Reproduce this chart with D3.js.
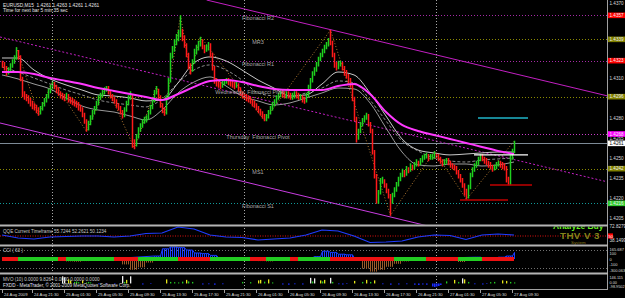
<!DOCTYPE html>
<html>
<head>
<meta charset="utf-8">
<script src="https://cdnjs.cloudflare.com/ajax/libs/d3/7.8.5/d3.min.js"></script>
<style>
body { margin: 0; background: #000; }
svg { display: block; font-family: "Liberation Sans", Arial, sans-serif; }
</style>
</head>
<body>
<div id="chart"></div>
<script>
///////////////////////////////////////////////////////////////////////////
///////////////////////////////// Data ////////////////////////////////////
///////////////////////////////////////////////////////////////////////////

// EURUSD M15, prices in pips above 1.4200 (open of each bar = previous close)
var basePrice = 1.42;
var firstOpen = 121;
var closes = [120,118,114,116,119,122,125,128,126,110,
  98,96,95,93,91,89,88,86,84,87,
  90,93,96,100,103,105,104,101,99,97,
  96,95,97,94,93,92,91,90,88,87,
  83,78,73,76,80,84,87,91,95,97,
  99,101,102,100,97,95,93,90,88,85,
  82,86,91,95,97,62,60,66,71,74,
  77,79,80,84,88,93,99,101,96,90,
  86,84,95,108,127,132,137,140,143,145,
  140,135,128,120,116,122,130,133,136,138,
  134,131,133,135,128,118,108,106,105,104,
  106,107,108,107,106,105,104,105,102,99,
  97,96,95,94,93,91,90,88,86,84,
  82,80,81,84,87,90,92,95,97,99,
  98,97,98,97,96,97,98,97,96,96,
  94,93,97,103,108,113,116,120,124,127,
  130,133,135,138,137,128,120,118,121,121,
  118,114,112,108,105,95,80,65,70,75,
  78,80,82,76,71,55,37,18,24,33,
  33,30,26,22,18,22,26,30,34,37,
  40,38,42,41,44,43,45,47,46,48,
  50,51,52,50,51,51,53,52,50,48,
  46,47,48,47,45,44,43,40,37,34,
  30,26,21,28,37,41,44,46,49,51,
  50,48,47,45,44,42,43,45,46,45,
  44,43,34,31,50,55,61];
var highs = [123,122,119,118,121,124,127,133,131,127,
  111,100,98,97,95,93,91,90,88,89,
  92,95,98,102,105,108,107,105,103,100,
  99,98,99,98,96,95,94,93,92,90,
  88,84,79,78,82,86,89,93,97,99,
  101,103,104,104,101,98,96,94,91,89,
  86,88,93,97,100,98,64,68,73,76,
  79,81,82,86,90,95,101,104,102,97,
  91,88,97,110,129,134,139,143,146,157,
  147,142,136,129,121,124,132,135,138,141,
  139,135,135,137,136,129,119,110,108,107,
  108,109,110,110,109,108,107,107,106,103,
  100,99,98,97,96,94,93,91,89,87,
  85,83,83,86,89,92,94,97,99,101,
  101,100,100,100,99,99,100,100,99,98,
  97,96,99,105,110,115,118,122,126,129,
  132,135,137,140,146,138,129,122,123,123,
  122,119,116,113,110,106,96,81,72,77,
  80,82,84,83,77,72,56,38,26,35,
  36,34,31,27,23,24,28,32,36,39,
  42,41,44,43,46,45,47,49,48,50,
  52,53,54,53,53,53,55,54,53,51,
  49,49,50,50,48,46,45,44,41,38,
  35,31,27,30,39,43,46,48,51,53,
  53,51,50,48,47,45,45,47,48,48,
  47,46,44,36,52,57,63];
var lows = [118,116,112,113,115,118,121,124,124,108,
  96,94,93,91,89,87,86,84,82,83,
  86,89,92,95,99,102,102,99,97,95,
  94,93,94,92,91,90,89,88,86,85,
  81,76,70,71,75,79,83,86,90,94,
  96,98,100,98,95,93,91,88,86,83,
  80,81,85,90,94,58,57,59,65,70,
  73,76,77,79,83,87,92,98,94,88,
  84,82,83,94,107,125,130,135,138,141,
  138,133,126,117,113,115,121,128,131,134,
  132,129,130,131,126,116,106,104,103,102,
  103,105,106,105,104,103,102,103,100,97,
  95,94,93,92,91,89,88,86,84,82,
  80,78,78,80,83,86,89,91,94,96,
  96,95,95,95,94,94,95,95,94,94,
  92,91,92,96,102,107,112,115,119,123,
  126,129,132,134,135,126,118,116,117,119,
  116,112,110,106,103,93,78,62,64,69,
  74,77,79,74,69,53,35,16,16,23,
  31,28,24,20,7,16,21,25,29,33,
  36,36,37,39,40,41,42,44,44,45,
  47,49,50,48,49,49,50,50,48,46,
  44,45,46,45,43,42,41,38,35,32,
  28,22,19,20,27,36,40,43,45,48,
  48,46,45,43,42,40,41,42,44,43,
  42,41,32,30,30,49,54];

// moving averages / bands read every 8 bars (pips above 1.4200)
var maBars = [0,8,16,24,32,40,48,56,64,72,80,88,96,104,112,120,128,136,144,152,160,168,176,184,192,200,208,216,224,232,240,248,256];
var maSlow = [114.5,114.5,113,110,107.8,105.5,102.5,100.3,98,95.8,93.5,98,103.3,107.8,108.5,107,104,101.8,101,101,101,104,105.5,98,84.5,74.8,70.3,67.3,64.3,61.3,58.3,55.3,53];
var bandUp = [125,125,116,109.3,104.8,101,97.3,96.5,95,92.8,93.5,106.3,121.3,125.8,122.8,116,108.5,102.5,96.5,97.3,105.5,114.5,112.3,98.8,81.5,64.3,56,53.8,52.3,53,53.8,54.5,54.5];
var bandLo = [112.3,109.3,105.5,101.8,95,89,86,84.5,81.5,78.5,86,98.8,107,110.8,104,96.5,92.8,89.8,91.3,95,98.8,102.5,101.8,91.3,72.5,54.5,44.8,44,45.5,45.5,44,44.8,47];
var bandMid = [118.3,114.5,110,105.5,101,97.3,93.5,91.3,89.8,88.3,94.3,106.3,116,119.8,116,108.5,98.8,96.5,95.8,98.8,102.5,107.8,106.3,93.5,77.8,62.8,55.3,50,47.8,47,48.5,49.3,50];

// zigzag swing points
var zzBars = [7,18,25,42,52,66,77,81,89,94,99,131,164,194,216,232,256];
var zzVals = [133,82,108,70,104,57,104,82,157,113,141,78,146,7,55,19,63];

// channel anchor points
var chanUpBars = [165, 284], chanUpVals = [146, 103.3];
var chanMidBars = [0, 284], chanMidVals = [140.4, 38.8];
var chanLoBars = [0, 159], chanLoVals = [75.9, 18.5];

// drawn horizontal segments [from bar, to bar], level in pips
var segCyan = [238, 263], segCyanVal = 80;
var segWhite = [236, 263], segWhiteVal = 52.3;
var segRed1 = [244, 265], segRed1Val = 29.8;
var segRed2 = [229, 253], segRed2Val = 18.5;

// Fibonacci pivot levels
var fibNames = ["Fibonacci R2", "MR3", "Fibonacci R1", "Wednesday  Fibonacci Pivot", "Thursday  Fibonacci Pivot", "MS1", "Fibonacci S1"];
var fibPrices = [1.4357, 1.4339, 1.4323, 1.4296, 1.4268, 1.4242, 1.4216];
var bidPrice = 1.4261;

// price axis
var priceTicks = [1.4205, 1.4220, 1.4235, 1.4250, 1.4265, 1.4280, 1.4295, 1.4310, 1.4325, 1.4340, 1.4355, 1.4370];

// time axis
var timeBars = [0,15,31,47,63,79,95,111,127,143,159,175,191,207,223,239,255];
var timeLabels = ["24 Aug 2009","24 Aug 21:30","25 Aug 01:30","25 Aug 05:30","25 Aug 09:30","25 Aug 13:30","25 Aug 17:30","25 Aug 21:30",
  "26 Aug 01:30","26 Aug 05:30","26 Aug 09:30","26 Aug 13:30","26 Aug 17:30","26 Aug 21:30","27 Aug 01:30","27 Aug 05:30","27 Aug 09:30"];
var dayBars = [25, 121, 217];

// QQE (same sample bars as the averages)
var qqeVals = [52.5,45,42.5,47.5,48.8,50,50,47.5,50,56.3,57.5,72.5,67.5,52.5,47.5,46.3,40,42.5,45,52.5,65,62.5,50,33.8,35,37.5,47.5,52.5,51.3,41.3,52.5,55,52.5];
var qqeLevel = 50;

// CCI(63), one value per 4 bars, and the signal band colour per 4 bars
var cciVals = [-15,-10,-30,-25,-10,10,15,-20,-40,-45,
  -35,-20,10,5,-25,-90,-180,-140,-60,50,
  170,200,190,150,100,90,60,20,10,-10,
  -20,-15,-35,-40,-20,-10,-15,-30,20,40,
  130,110,80,70,10,-160,-210,-180,-130,-80,
  -40,-20,5,10,-10,-5,-30,-50,-20,30,
  20,15,30,50,110];
var cciBand = "rrgggggrggggggrrrgggggrrrrgggggrrgggrggggrrrrrrrrggggrrrrgggrrrr";
var cciLevels = [150, -150];

// MVO histogram (sparse)
var mvoUpBars = [30,31,33,34,36,37,38,40,42,43,44,60,61,62,64,82,84,86,88,90,92,93,95,120,124,128,129,131,133,135,154,155,156,159,160,161,164,165,176,180,182,184,186,222,226,228,230,231,233,244,246,250,252,254,256];
var mvoUpVals = [140,120,80,60,30,40,25,60,20,30,20,145,30,70,140,80,30,25,20,35,70,40,30,30,25,60,70,35,80,20,110,40,100,60,40,70,110,30,50,30,70,30,60,40,70,30,100,80,30,25,30,60,50,30,20];
var mvoDnBars = [2,5,10,15,22,48,52,56,70,74,100,103,106,110,140,143,146,150,168,170,172,190,194,198,202,206,208,210,212,215,216,217,218,219,236,240,242];
var mvoDnVals = [-10,-15,-10,-20,-10,-15,-10,-15,-20,-10,-20,-15,-25,-15,-20,-25,-15,-20,-15,-20,-10,-15,-25,-20,-15,-25,-30,-20,-25,-60,-70,-60,-50,-30,-15,-20,-10];

///////////////////////////////////////////////////////////////////////////
//////////////////////////////// Setup ////////////////////////////////////
///////////////////////////////////////////////////////////////////////////

var width = 625, height = 298;
var axisX = 607, axisY = 289, mainBottom = 224.5;
var axisFont = 4.6;

function P(v) { return basePrice + v / 10000; }

var svg = d3.select("#chart").append("svg")
  .attr("width", width)
  .attr("height", height);

svg.append("rect").attr("width", width).attr("height", height).attr("fill", "#000");

var defs = svg.append("defs");
defs.append("clipPath").attr("id", "mainClip")
  .append("rect").attr("x", 0).attr("y", 0).attr("width", axisX).attr("height", mainBottom);
defs.append("clipPath").attr("id", "qqeClip")
  .append("rect").attr("x", 0).attr("y", 226.5).attr("width", axisX).attr("height", 18);

var x = d3.scaleLinear().domain([0, 302]).range([2, 606]);
var y = d3.scaleLinear().domain([1.4205, 1.4355]).range([218, 18]);
var qqeY = d3.scaleLinear().domain([30, 75]).range([244, 226]);
var cciY = d3.scaleLinear().domain([-200, 200]).range([271, 247]);
var mvoY = d3.scaleLinear().domain([-98.95, 146.115]).range([288.5, 276]);

///////////////////////////////////////////////////////////////////////////
////////////////////////////// Main window ////////////////////////////////
///////////////////////////////////////////////////////////////////////////

var main = svg.append("g").attr("clip-path", "url(#mainClip)");

// day separators (all windows)
svg.selectAll(".daysep")
  .data(dayBars)
  .enter().append("line")
  .attr("x1", function(d) { return x(d) + 0.5; })
  .attr("x2", function(d) { return x(d) + 0.5; })
  .attr("y1", 0).attr("y2", axisY)
  .attr("stroke", "#a8a8a8")
  .attr("stroke-dasharray", "1,2");

var fibColors = ["#a52aa5", "#8a8a00", "#a52aa5", "#8a8a00", "#c83cc8", "#8a8a00", "#119999"];
var fibBoxes = ["#ff0000", "#808000", "#ff0000", "#808000", "#ff00ff", "#808000", "#32cd32"];

main.selectAll(".fib")
  .data(fibPrices)
  .enter().append("line")
  .attr("x1", 0).attr("x2", axisX)
  .attr("y1", function(d) { return Math.round(y(d)) + 0.5; })
  .attr("y2", function(d) { return Math.round(y(d)) + 0.5; })
  .attr("stroke", function(d, i) { return fibColors[i]; })
  .attr("stroke-dasharray", "1,2");

// bid line
main.append("line")
  .attr("x1", 0).attr("x2", axisX)
  .attr("y1", Math.round(y(bidPrice)) + 0.5).attr("y2", Math.round(y(bidPrice)) + 0.5)
  .attr("stroke", "#7d8a96");

// channels, extended across the window
function channel(bars, vals, dash, color, fromTop) {
  var x1 = x(bars[0]), y1 = y(P(vals[0])), x2 = x(bars[1]), y2 = y(P(vals[1]));
  var k = (y2 - y1) / (x2 - x1);
  var startX = fromTop ? x1 - y1 / k : 0;
  main.append("line")
    .attr("x1", startX).attr("y1", y1 + (startX - x1) * k)
    .attr("x2", axisX).attr("y2", y1 + (axisX - x1) * k)
    .attr("stroke", color)
    .attr("stroke-width", 1)
    .attr("stroke-dasharray", dash);
}
channel(chanUpBars, chanUpVals, null, "#c21fc2", true);
channel(chanMidBars, chanMidVals, "2,2", "#c21fc2", false);
channel(chanLoBars, chanLoVals, null, "#c83ce0", false);

// zigzag
main.append("path")
  .datum(zzBars)
  .attr("fill", "none")
  .attr("stroke", "#b07830")
  .attr("stroke-dasharray", "1,2")
  .attr("d", d3.line()
    .x(function(d) { return x(d) + 0.5; })
    .y(function(d, i) { return y(P(zzVals[i])); }));

// averages and bands
function maLine(vals, color, w, dash) {
  main.append("path")
    .datum(maBars)
    .attr("fill", "none")
    .attr("stroke", color)
    .attr("stroke-width", w)
    .attr("stroke-dasharray", dash)
    .attr("d", d3.line()
      .curve(d3.curveMonotoneX)
      .x(function(d) { return x(d); })
      .y(function(d, i) { return y(P(vals[i])); }));
}
maLine(bandLo, "#9a9a9a", 1, null);
maLine(bandMid, "#8c8c8c", 1, "3,2");
maLine(bandUp, "#c8c8c8", 1, null);

// candles
var bars = closes.map(function(c, i) {
  return { i: i, o: i ? closes[i - 1] : firstOpen, h: highs[i], l: lows[i], c: c };
});
main.selectAll(".bar")
  .data(bars)
  .enter().append("line")
  .attr("x1", function(d) { return x(d.i) + 0.5; })
  .attr("x2", function(d) { return x(d.i) + 0.5; })
  .attr("y1", function(d) { return y(P(Math.max(d.h, d.o, d.c))); })
  .attr("y2", function(d) { return y(P(Math.min(d.l, d.o, d.c))) + 0.5; })
  .attr("stroke", function(d) { return d.c >= d.o ? "#1fd01f" : "#ff1a1a"; })
  .attr("stroke-width", 1.5);

maLine(maSlow, "#ff38ff", 2, null);

// drawn horizontal segments
function seg(b, v, color, w) {
  main.append("line")
    .attr("x1", x(b[0])).attr("x2", x(b[1]))
    .attr("y1", y(P(v))).attr("y2", y(P(v)))
    .attr("stroke", color).attr("stroke-width", w);
}
seg(segCyan, segCyanVal, "#1fb4c8", 1.6);
seg(segWhite, segWhiteVal, "#ffffff", 1.3);
seg(segRed1, segRed1Val, "#c00000", 1.5);
seg(segRed2, segRed2Val, "#c00000", 1.5);

// fibo labels
main.selectAll(".fibtext")
  .data(fibNames)
  .enter().append("text")
  .attr("x", function(d, i) { return x(i === 3 ? 124 : 128); })
  .attr("y", function(d, i) { return y(fibPrices[i]) + (i === 3 ? -3 : 5); })
  .attr("text-anchor", "middle")
  .attr("fill", "#a8a8a8")
  .style("font-size", "5.5px")
  .style("white-space", "pre")
  .text(function(d) { return d; });

// header
svg.append("text").attr("x", 3).attr("y", 6.5)
  .attr("fill", "#e6e6e6").style("font-size", "4.8px").style("white-space", "pre")
  .text("EURUSD,M15  1.4261 1.4263 1.4261 1.4261");
svg.append("text").attr("x", 3).attr("y", 12)
  .attr("fill", "#e6e6e6").style("font-size", "4.8px")
  .text("Time for next bar 5 min 35 sec");

///////////////////////////////////////////////////////////////////////////
/////////////////////////////// Price axis ////////////////////////////////
///////////////////////////////////////////////////////////////////////////

svg.append("line")
  .attr("x1", axisX + 0.5).attr("x2", axisX + 0.5)
  .attr("y1", 0).attr("y2", axisY)
  .attr("stroke", "#a0a0a0");

// tick labels hidden where a level box sits on them
var boxYs = fibPrices.concat([bidPrice]).map(function(p) { return y(p); });
var shownTicks = priceTicks.filter(function(t) {
  return boxYs.every(function(b) { return Math.abs(Math.max(3, y(t)) - b) >= 3; });
});

svg.selectAll(".ptick")
  .data(shownTicks)
  .enter().append("text")
  .attr("x", axisX + 2.5)
  .attr("y", function(d) {
    var yy = Math.max(3, y(d));
    boxYs.forEach(function(b) { if (Math.abs(yy - b) < 5) yy = b + (yy > b ? 5 : -5); });
    return yy + 1.6;
  })
  .attr("fill", "#dcdcdc")
  .style("font-size", axisFont + "px")
  .text(function(d) { return d.toFixed(4); });

function priceBox(yy, fill, txtColor, label) {
  svg.append("rect")
    .attr("x", axisX + 1).attr("y", yy - 2.8)
    .attr("width", 17).attr("height", 5.6)
    .attr("fill", fill);
  svg.append("text")
    .attr("x", axisX + 2.5).attr("y", yy + 1.6)
    .attr("fill", txtColor)
    .style("font-size", axisFont + "px")
    .text(label);
}
fibPrices.forEach(function(p, i) {
  priceBox(y(p), fibBoxes[i], "#f0f0f0", p.toFixed(4));
});
priceBox(y(bidPrice), "#ffffff", "#000000", bidPrice.toFixed(4));

///////////////////////////////////////////////////////////////////////////
////////////////////////////////// QQE ////////////////////////////////////
///////////////////////////////////////////////////////////////////////////

svg.append("line")
  .attr("x1", 0).attr("x2", axisX)
  .attr("y1", qqeY(qqeLevel)).attr("y2", qqeY(qqeLevel))
  .attr("stroke", "#e01010")
  .attr("stroke-dasharray", "1,1.5");

svg.append("path")
  .datum(maBars)
  .attr("fill", "none")
  .attr("stroke", "#1f3cff")
  .attr("stroke-width", 1.2)
  .attr("d", d3.line()
    .x(function(d) { return x(d); })
    .y(function(d, i) { return qqeY(qqeVals[i]); }));

svg.append("text").attr("x", 3).attr("y", 232.5)
  .attr("fill", "#c8c8c8").style("font-size", "4.6px")
  .text("QQE Current Timeframe 55.7244 52.2621 50.1234");

svg.append("text").attr("x", 553).attr("y", 229)
  .attr("clip-path", "url(#qqeClip)")
  .attr("fill", "#66ee22").style("font-size", "8.5px").style("font-weight", "bold")
  .text("Analyze Buy");
svg.append("text").attr("x", 560).attr("y", 239.3)
  .attr("fill", "#84841a").style("font-size", "9.8px").style("font-weight", "bold")
  .style("letter-spacing", "0.4px")
  .text("THV V 3");
svg.append("text").attr("x", 571).attr("y", 244)
  .attr("fill", "#8a7a1a").style("font-size", "4.4px")
  .text("System");

svg.append("text").attr("x", axisX + 2.5).attr("y", qqeY(72.8279) + 1.6)
  .attr("fill", "#dcdcdc").style("font-size", axisFont + "px").text("72.8279");
svg.append("text").attr("x", axisX + 2.5).attr("y", qqeY(38.1499) + 1.6)
  .attr("fill", "#dcdcdc").style("font-size", axisFont + "px").text("38.1499");
svg.append("rect").attr("x", axisX + 1).attr("y", qqeY(qqeLevel) - 2.6)
  .attr("width", 5).attr("height", 5.2).attr("fill", "#ff0000");
svg.append("text").attr("x", axisX + 1.4).attr("y", qqeY(qqeLevel) + 1.6)
  .attr("fill", "#ffffff").style("font-size", "4.2px").text("50");

///////////////////////////////////////////////////////////////////////////
////////////////////////////////// CCI ////////////////////////////////////
///////////////////////////////////////////////////////////////////////////

svg.selectAll(".ccilev")
  .data(cciLevels)
  .enter().append("line")
  .attr("x1", 0).attr("x2", axisX)
  .attr("y1", function(d) { return Math.round(cciY(d)) + 0.5; })
  .attr("y2", function(d) { return Math.round(cciY(d)) + 0.5; })
  .attr("stroke", "#707070")
  .attr("stroke-dasharray", "1,2");

var cciBars = closes.map(function(c, i) { return { i: i, v: cciVals[Math.floor(i / 4)] }; });
svg.selectAll(".cci")
  .data(cciBars)
  .enter().append("line")
  .attr("x1", function(d) { return x(d.i) + 0.5; })
  .attr("x2", function(d) { return x(d.i) + 0.5; })
  .attr("y1", cciY(0))
  .attr("y2", function(d) { return cciY(d.v); })
  .attr("stroke", function(d) { return d.v >= 0 ? "#1a3cff" : "#9a5a2a"; })
  .attr("stroke-width", 1);

svg.append("path")
  .datum(cciBars.filter(function(d) { return d.v > 0; }))
  .attr("fill", "none")
  .attr("stroke", "#1a3cff")
  .attr("d", d3.line()
    .x(function(d) { return x(d.i) + 0.5; })
    .y(function(d) { return cciY(d.v); }));

svg.selectAll(".band")
  .data(cciBand.split(""))
  .enter().append("rect")
  .attr("x", function(d, i) { return x(i * 4); })
  .attr("width", function(d, i) { return x(Math.min(i * 4 + 4, 257)) - x(i * 4); })
  .attr("y", cciY(0) - 2)
  .attr("height", 4)
  .attr("fill", function(d) { return d === "g" ? "#22cc22" : "#ee1111"; });

svg.append("text").attr("x", 3).attr("y", 251.5)
  .attr("fill", "#c8c8c8").style("font-size", "4.6px").style("white-space", "pre")
  .text("CCI ( 63 )");

[["165.687", 250.6], ["100", cciY(100) + 2.2], ["0", cciY(0) + 1.6], ["-100", cciY(-100) + 1.2], ["-300.063", 271.8]].forEach(function(d) {
  svg.append("text").attr("x", axisX + 2.5).attr("y", d[1])
    .attr("fill", "#dcdcdc").style("font-size", "4px").text(d[0]);
});

///////////////////////////////////////////////////////////////////////////
////////////////////////////////// MVO ////////////////////////////////////
///////////////////////////////////////////////////////////////////////////

function mvoColor(v) {
  if (v < 0) return "#1a2cff";
  if (v >= 90) return "#f0f0f0";
  if (v >= 50) return "#e6e61a";
  return "#22cc22";
}
svg.selectAll(".mvoUp")
  .data(mvoUpBars)
  .enter().append("rect")
  .attr("x", function(d) { return x(d); })
  .attr("width", 1.3)
  .attr("y", function(d, i) { return mvoY(mvoUpVals[i]); })
  .attr("height", function(d, i) { return mvoY(0) - mvoY(mvoUpVals[i]); })
  .attr("fill", function(d, i) { return mvoColor(mvoUpVals[i]); });
svg.selectAll(".mvoDn")
  .data(mvoDnBars)
  .enter().append("rect")
  .attr("x", function(d) { return x(d); })
  .attr("width", 1.6)
  .attr("y", mvoY(0))
  .attr("height", function(d, i) { return mvoY(mvoDnVals[i]) - mvoY(0); })
  .attr("fill", "#1a2cff");

svg.append("text").attr("x", 3).attr("y", 280.5)
  .attr("fill", "#c8c8c8").style("font-size", "4.6px")
  .text("MVO (10) 0.0000 9.8264 0.0000 0.0000 0.0000");
svg.append("text").attr("x", 3).attr("y", 286.5)
  .attr("fill", "#e0e0e0").style("font-size", "4.6px")
  .text("FXDD - MetaTrader, \u00a9 2001-2009 MetaQuotes Software Corp.");

[["146.115", 279], ["0.00", 283.6], ["-98.9502", 288.3]].forEach(function(d) {
  svg.append("text").attr("x", axisX + 2.5).attr("y", d[1])
    .attr("fill", "#dcdcdc").style("font-size", "3.8px").text(d[0]);
});

///////////////////////////////////////////////////////////////////////////
/////////////////////////// Separators, time axis /////////////////////////
///////////////////////////////////////////////////////////////////////////

[224.5, 244.5, 272.5].forEach(function(yy) {
  svg.append("rect").attr("x", 0).attr("y", yy).attr("width", axisX + 1).attr("height", 2)
    .attr("fill", "#b4b4b4");
});

svg.append("line")
  .attr("x1", 0).attr("x2", axisX + 1)
  .attr("y1", axisY + 0.5).attr("y2", axisY + 0.5)
  .attr("stroke", "#a0a0a0");

svg.selectAll(".ttick")
  .data(timeBars)
  .enter().append("line")
  .attr("x1", function(d) { return x(d) + 0.5; })
  .attr("x2", function(d) { return x(d) + 0.5; })
  .attr("y1", axisY + 1).attr("y2", axisY + 4)
  .attr("stroke", "#a0a0a0");

svg.selectAll(".tlabel")
  .data(timeBars)
  .enter().append("text")
  .attr("x", function(d) { return x(d) + 2; })
  .attr("y", 295.5)
  .attr("fill", "#dcdcdc")
  .style("font-size", "4.2px")
  .text(function(d, i) { return timeLabels[i]; });
</script>
</body>
</html>
